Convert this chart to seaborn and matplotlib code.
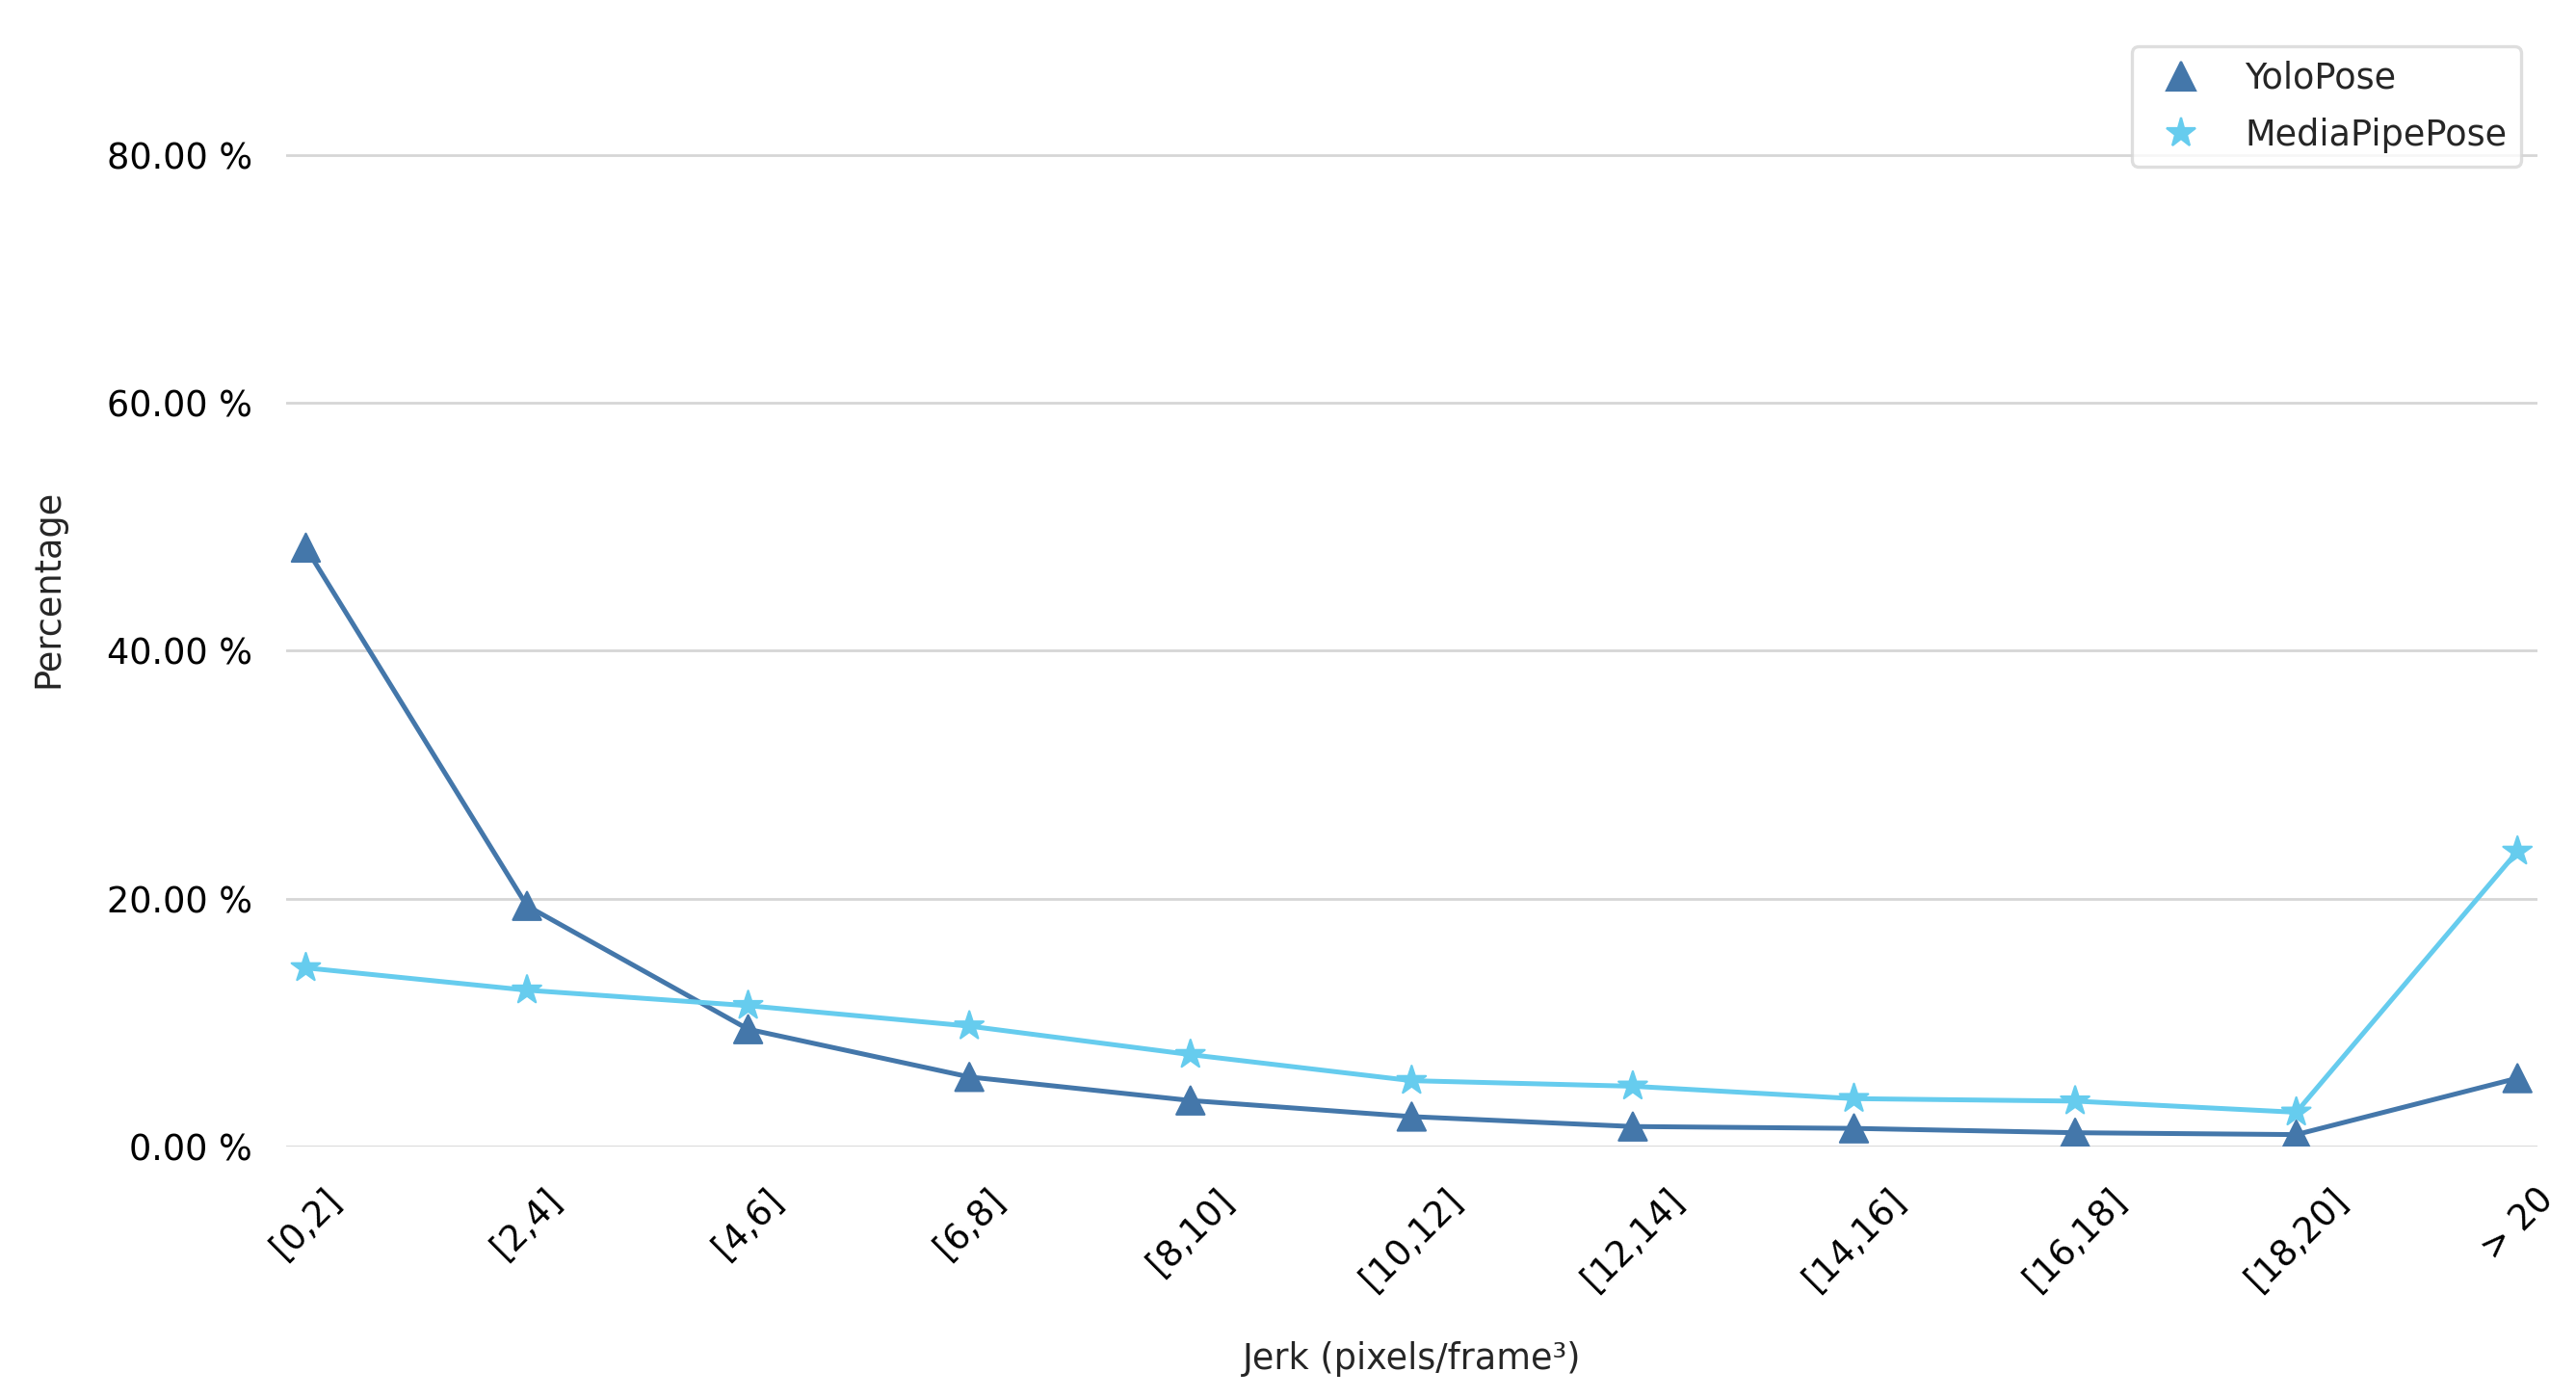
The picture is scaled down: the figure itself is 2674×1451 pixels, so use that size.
import matplotlib
matplotlib.use("Agg")
import matplotlib.pyplot as plt
import seaborn as sns
import pandas as pd
from matplotlib.ticker import FuncFormatter

categories = ["[0,2]", "[2,4]", "[4,6]", "[6,8]", "[8,10]", "[10,12]",
              "[12,14]", "[14,16]", "[16,18]", "[18,20]", "> 20"]
yolo_values = [48.3, 19.4, 9.45, 5.6, 3.7, 2.4, 1.6, 1.45, 1.1, 0.95, 5.5]
mediapipe_values = [14.4, 12.6, 11.35, 9.7, 7.4, 5.3, 4.85, 3.85, 3.65, 2.75, 23.8]
series_names = ["YoloPose", "MediaPipePose"]
y_ticks = [0, 20, 40, 60, 80]

colors = {"YoloPose": "#4477AA", "MediaPipePose": "#66CCEE"}
markers = {"YoloPose": "^", "MediaPipePose": "*"}
marker_sizes = {"YoloPose": 110, "MediaPipePose": 125}

df = pd.DataFrame({
    "x": list(range(len(categories))) * 2,
    "value": yolo_values + mediapipe_values,
    "model": [series_names[0]] * len(categories) + [series_names[1]] * len(categories),
})

sns.set_style("whitegrid")
plt.rcParams["font.family"] = ["DejaVu Sans"]
plt.rcParams["lines.solid_joinstyle"] = "round"
FS = 13.2

fig = plt.figure(figsize=(13.37, 7.255), dpi=200)
ax = fig.add_axes([0.111, 0.180, 0.874, 0.798])

sns.lineplot(data=df, x="x", y="value", hue="model", palette=colors,
             linewidth=1.8, legend=False, ax=ax)
sns.scatterplot(data=df, x="x", y="value", hue="model", style="model",
                size="model", sizes=marker_sizes,
                palette=colors, markers=markers, linewidth=0.8,
                edgecolor="face", ax=ax, zorder=3)
for coll in ax.collections:
    coll.set_joinstyle("round")

ax.set_xlim(-0.09, len(categories) - 1 + 0.09)
ax.set_ylim(0, 90)
ax.set_yticks(y_ticks)
ax.yaxis.set_major_formatter(FuncFormatter(lambda v, p: f"{v:.2f} %"))
ax.set_xticks(range(len(categories)))
ax.set_xticklabels(categories, rotation=45, ha="center")
ax.tick_params(axis="both", labelsize=FS, length=0, colors="black")
ax.tick_params(axis="y", pad=12.5)
ax.tick_params(axis="x", pad=13)
ax.grid(axis="x", visible=False)
ax.grid(axis="y", color="#d6d6d6", linewidth=1.0)
for s in ax.spines.values():
    s.set_visible(False)

ax.set_xlabel("Jerk (pixels/frame³)", fontsize=FS, color="#262626", labelpad=16.5)
ax.set_ylabel("Percentage", fontsize=FS, color="#262626", labelpad=15.5)

leg = ax.legend(loc="upper right", fontsize=FS, frameon=True,
                borderaxespad=0.0, labelspacing=0.6,
                bbox_to_anchor=(0.9787, 0.9669), bbox_transform=fig.transFigure)
leg.get_frame().set_edgecolor("#d6d6d6")
leg.get_frame().set_linewidth(1.2)
for t in leg.get_texts():
    t.set_color("#262626")

fig.savefig("out.png", dpi=200)
